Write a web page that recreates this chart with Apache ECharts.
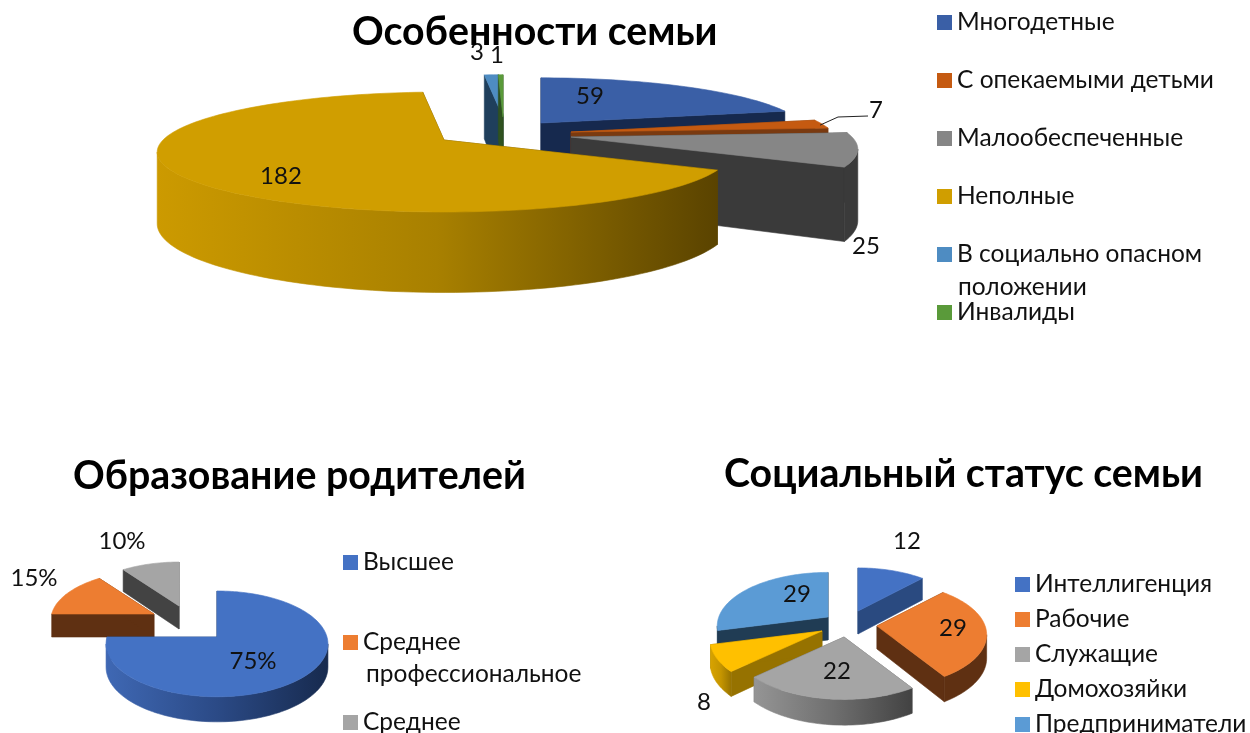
<!DOCTYPE html>
<html>
<head>
<meta charset="utf-8">
<style>
  html, body { margin: 0; padding: 0; background: #fff; }
  #main { width: 1250px; height: 733px; }
</style>
<script src="https://cdn.jsdelivr.net/npm/echarts@6/dist/echarts.min.js"></script>
</head>
<body>
<div id="main"></div>
<script>
// data
const familyNames = ['Многодетные', 'С опекаемыми детьми', 'Малообеспеченные', 'Неполные', 'В социально опасном\nположении', 'Инвалиды']
const familyValues = [59, 7, 25, 182, 3, 1]

const educationNames = ['Высшее', 'Среднее\nпрофессиональное', 'Среднее']
const educationValues = [75, 15, 10]

const statusNames = ['Интеллигенция', 'Рабочие', 'Служащие', 'Домохозяйки', 'Предприниматели']
const statusValues = [12, 29, 22, 8, 29]

const chartTitles = ['Особенности семьи', 'Образование родителей', 'Социальный статус семьи']

const fontFamily = 'Lato, "Open Sans", "Noto Sans", sans-serif'

// pie geometry and slice styling, kept apart from the values
const familyPie = {
  rx: 281, ry: 57.6, persp: 0.2, depth: 70, order: [0, 4, 5, 1, 2, 3],
  slices: [
    { apex: [541, 123], scale: 0.93, top: '#3a5fa6', side: '#16294e', label: [590, 96] },
    { apex: [571, 132], scale: 0.93, top: '#c55a11', side: '#7a3a10', label: [876, 110], leader: true },
    { apex: [571, 137], scale: 1, top: '#868686', side: '#3a3a3a', label: [866, 246] },
    { apex: [444, 140], scale: 1, top: '#d09e00', side: '#5c4400', rim: ['#cc9a00', '#a88000', '#5a4300'], label: [281, 176] },
    { apex: [503, 117], scale: 0.86, top: '#4e8cc2', side: '#1f3f5c', label: [477, 52] },
    { apex: [503, 117], scale: 0.86, top: '#5a9a3a', side: '#2f5220', label: [497, 55] }
  ]
}
const educationPie = {
  rx: 110, ry: 52, persp: 0.13, depth: 23, suffix: '%', order: [2, 1, 0],
  slices: [
    { apex: [217, 637], scale: 1, top: '#4472c4', side: '#1f3864', rim: ['#3f68b4', '#2b4a86', '#172a4e'], label: [253, 661] },
    { apex: [154, 614], scale: 0.93, top: '#ed7d31', side: '#5f3012', label: [34, 578] },
    { apex: [179, 606], scale: 0.95, top: '#a5a5a5', side: '#434343', label: [122, 541] }
  ]
}
const statusPie = {
  rx: 105, ry: 50, persp: 0.16, depth: 23, order: [0, 4, 3, 1, 2],
  slices: [
    { apex: [858, 611], scale: 1, top: '#4472c4', side: '#2a4a80', label: [907, 541] },
    { apex: [877, 626], scale: 1.03, top: '#ed7d31', side: '#5f3012', label: [953, 628] },
    { apex: [844, 637], scale: 1.04, top: '#a5a5a5', side: '#636363', rim: ['#959595', '#6f6f6f', '#424242'], label: [837, 671] },
    { apex: [822, 631], scale: 1.05, top: '#ffc000', side: '#967200', rim: ['#d8a300', '#c59500', '#967200'], label: [704, 702] },
    { apex: [828, 617], scale: 1.04, top: '#5b9bd5', side: '#203c54', label: [797, 594] }
  ]
}

function project (pie, slice, angle) {
  let u = Math.sin(angle) * slice.scale
  let v = -Math.cos(angle) * slice.scale
  let w = 1 / (1 - pie.persp * v)
  return [slice.apex[0] + pie.rx * u * w, slice.apex[1] + pie.ry * v * w, w]
}

function lowered (pie, point) {
  let w = point[2] === undefined ? 1 : point[2]
  return [point[0], point[1] + pie.depth * (1 + (w - 1) * 0.6)]
}

function arcPoints (pie, slice, from, to) {
  let pts = []
  let steps = Math.max(2, Math.ceil((to - from) / 0.03))
  for (let i = 0; i <= steps; i++) {
    pts.push(project(pie, slice, from + (to - from) * i / steps))
  }
  return pts
}

function polygon (points, fill) {
  return {
    type: 'polygon',
    shape: { points: points.map(p => [p[0], p[1]]) },
    style: { fill: fill, stroke: fill, lineWidth: 0.6 }
  }
}

function sliceSeries (name, value, start, end, pie, slice) {
  return {
    type: 'custom',
    name: name,
    coordinateSystem: 'none',
    itemStyle: { color: slice.top },
    data: [value],
    renderItem: function () {
      let children = []
      let arc = arcPoints(pie, slice, start, end)
      let apex = slice.apex

      // cut faces
      ;[arc[0], arc[arc.length - 1]].forEach(function (p) {
        children.push(polygon([apex, p, lowered(pie, p), lowered(pie, apex)], slice.side))
      })

      // outer wall, from the rightmost to the leftmost point of the rim
      let turn = Math.acos(-pie.persp * slice.scale)
      let from = Math.max(start, turn)
      let to = Math.min(end, Math.PI * 2 - turn)
      if (to > from) {
        let wall = arcPoints(pie, slice, from, to)
        let fill = slice.side
        if (slice.rim) {
          fill = new echarts.graphic.LinearGradient(0, 0, 1, 0, [
            { offset: 0, color: slice.rim[0] },
            { offset: 0.5, color: slice.rim[1] },
            { offset: 1, color: slice.rim[2] }
          ])
        }
        children.push(polygon(wall.concat(wall.map(p => lowered(pie, p)).reverse()), fill))
      }

      children.push(polygon([apex].concat(arc), slice.top))

      if (slice.leader) {
        let tip = arc[arc.length - 1]
        children.push({
          type: 'polyline',
          shape: { points: [[tip[0] - 8, tip[1] - 3], [slice.label[0] - 38, slice.label[1] + 7], [slice.label[0] - 8, slice.label[1] + 6]] },
          style: { stroke: '#222', lineWidth: 1, fill: null }
        })
      }
      children.push({
        type: 'text',
        x: slice.label[0],
        y: slice.label[1],
        z2: 10,
        style: {
          text: pie.suffix ? value + pie.suffix : String(value),
          fontSize: 24,
          fontFamily: fontFamily,
          fill: '#111',
          align: 'center',
          verticalAlign: 'middle'
        }
      })
      return { type: 'group', children: children }
    }
  }
}

function pieSeries (names, values, pie) {
  let total = values.reduce((a, b) => a + b, 0)
  let sum = 0
  let list = values.map(function (val, i) {
    let start = sum / total * Math.PI * 2
    sum += val
    return sliceSeries(names[i], val, start, sum / total * Math.PI * 2, pie, pie.slices[i])
  })
  return pie.order.map((i, n) => Object.assign(list[i], { z: 2 + n }))
}

function legendFor (names, left, top, gap) {
  return {
    orient: 'vertical',
    left: left,
    top: top,
    height: 500,
    padding: 0,
    data: names,
    icon: 'rect',
    itemWidth: 15,
    itemHeight: 15,
    itemGap: gap,
    selectedMode: false,
    formatter: name => name.split('\n')[0],
    textStyle: { fontSize: 24.5, lineHeight: 24, color: '#111', fontFamily: fontFamily }
  }
}

function titleFor (text, left, top) {
  return {
    text: text,
    left: left,
    top: top,
    padding: 0,
    textStyle: { fontSize: 39.3, lineHeight: 40, fontWeight: 'bold', color: '#000', fontFamily: fontFamily }
  }
}

function secondLine (name, left, y) {
  return {
    type: 'text',
    left: left,
    top: y - 12,
    style: { text: name.split('\n')[1], fontSize: 24.5, fill: '#111', fontFamily: fontFamily }
  }
}

const myChart = echarts.init(document.getElementById('main'), null, { renderer: 'canvas' })
myChart.setOption({
  animation: false,
  backgroundColor: '#fff',
  title: [
    titleFor(chartTitles[0], 352, 12),
    titleFor(chartTitles[1], 73, 456),
    titleFor(chartTitles[2], 724, 454)
  ],
  legend: [
    legendFor(familyNames, 937, 10, 33),
    legendFor(educationNames, 343, 550, 55),
    legendFor(statusNames, 1015, 572, 10)
  ],
  graphic: [
    secondLine(familyNames[4], 958, 287),
    secondLine(educationNames[1], 366, 674)
  ],
  series: [].concat(
    pieSeries(familyNames, familyValues, familyPie),
    pieSeries(educationNames, educationValues, educationPie),
    pieSeries(statusNames, statusValues, statusPie)
  )
})
window.onresize = function () {
  myChart.resize()
}
</script>
</body>
</html>
